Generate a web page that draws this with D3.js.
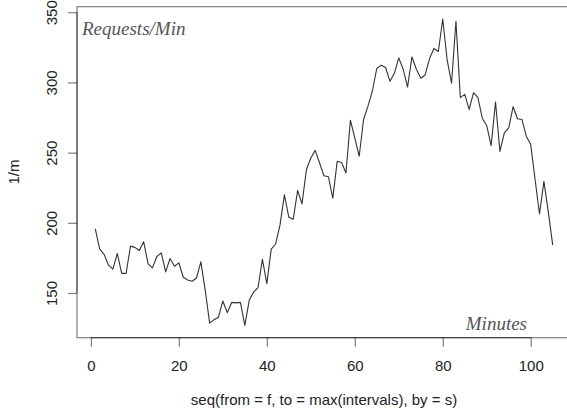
<!DOCTYPE html>
<html>
<head>
<meta charset="utf-8">
<script src="https://cdn.jsdelivr.net/npm/d3@7"></script>
<style>
  html, body { margin: 0; padding: 0; background: #fff; }
  svg { display: block; }
</style>
</head>
<body>
<div id="chart"></div>
<script>
// Request rate per minute, one sample per minute index
const minutes = d3.range(1, 106);
const requests = [
  195.6, 181.3, 177.5, 169.8, 167.0, 178.2, 164.0, 164.0, 183.4, 182.5,
  180.3, 186.5, 170.8, 167.9, 176.0, 178.6, 165.0, 174.6, 169.1, 171.5,
  161.2, 159.3, 158.4, 160.7, 172.2, 151.9, 128.5, 131.0, 132.8, 144.3,
  136.0, 143.3, 143.0, 143.3, 126.9, 144.8, 150.7, 153.9, 174.0, 156.7,
  181.3, 184.9, 198.5, 219.9, 204.0, 202.5, 223.0, 213.5, 237.8, 246.2,
  251.6, 242.6, 233.5, 232.8, 217.6, 243.8, 243.0, 235.5, 273.1, 260.5,
  247.4, 273.6, 283.1, 293.9, 309.9, 312.3, 310.6, 300.8, 306.5, 317.5,
  309.4, 296.7, 318.2, 309.4, 303.0, 305.3, 317.0, 324.2, 322.0, 345.2,
  316.0, 299.4, 343.6, 289.2, 291.5, 280.8, 292.7, 289.2, 274.3, 269.3,
  255.0, 286.0, 250.9, 264.1, 267.7, 282.7, 274.1, 273.6, 261.7, 255.7,
  230.7, 206.3, 229.5, 207.8, 184.1
];
const xTicks = [0, 20, 40, 60, 80, 100];
const yTicks = [150, 200, 250, 300, 350];

const xTitle = "seq(from = f, to = max(intervals), by = s)";
const yTitle = "1/m";
const topNote = "Requests/Min";
const bottomNote = "Minutes";

const W = 567, H = 415;
const box = { left: 77, right: 571, top: 6.7, bottom: 337.7 };
const sansFont = '"Liberation Sans", Arial, Helvetica, sans-serif';
const noteFont = '"Liberation Serif", "DejaVu Serif", serif';
const labelSize = 15;

// R-style 4% padding around the data range
function padded(ext) {
  const r = ext[1] - ext[0];
  return [ext[0] - 0.04 * r, ext[1] + 0.04 * r];
}

const x = d3.scaleLinear().domain(padded(d3.extent(minutes))).range([box.left, box.right]);
const y = d3.scaleLinear().domain(padded(d3.extent(requests))).range([box.bottom, box.top]);

const svg = d3.select("#chart").append("svg")
  .attr("width", W).attr("height", H);

const frameColor = "rgba(0,0,0,0.5)";

// plot frame
svg.append("rect")
  .attr("x", box.left).attr("y", box.top)
  .attr("width", box.right - box.left).attr("height", box.bottom - box.top)
  .attr("fill", "none").attr("stroke", frameColor).attr("stroke-width", 1.2);

// x axis
const gx = svg.append("g")
  .attr("transform", `translate(0,${box.bottom})`)
  .call(d3.axisBottom(x).tickValues(xTicks).tickFormat(d3.format("d"))
    .tickSize(9).tickSizeOuter(0));
gx.select(".domain").remove();
gx.append("line")
  .attr("x1", x(xTicks[0])).attr("x2", x(xTicks[xTicks.length - 1]))
  .attr("stroke", frameColor).attr("stroke-width", 1.2);
gx.selectAll(".tick line").attr("stroke", frameColor).attr("stroke-width", 1.2);
gx.selectAll(".tick text")
  .style("font-family", sansFont).style("font-size", labelSize + "px")
  .attr("fill", "#222")
  .attr("dy", null).attr("y", 33);

// y axis
const gy = svg.append("g")
  .attr("transform", `translate(${box.left},0)`)
  .call(d3.axisLeft(y).tickValues(yTicks).tickFormat(d3.format("d"))
    .tickSize(9).tickSizeOuter(0));
gy.select(".domain").remove();
gy.append("line")
  .attr("y1", y(yTicks[0])).attr("y2", y(yTicks[yTicks.length - 1]))
  .attr("stroke", frameColor).attr("stroke-width", 1.2);
gy.selectAll(".tick line").attr("stroke", frameColor).attr("stroke-width", 1.2);
gy.selectAll(".tick text")
  .style("font-family", sansFont).style("font-size", labelSize + "px")
  .attr("fill", "#222")
  .attr("transform", "rotate(-90)")
  .attr("text-anchor", "middle")
  .attr("x", 0).attr("y", -20).attr("dy", null);

// series line
svg.append("path")
  .datum(minutes.map((m, i) => [m, requests[i]]))
  .attr("fill", "none")
  .attr("stroke", "#333")
  .attr("stroke-width", 1.1)
  .attr("stroke-linejoin", "round")
  .attr("d", d3.line().x(d => x(d[0])).y(d => y(d[1])));

// axis titles
svg.append("text")
  .attr("x", 324).attr("y", 405)
  .attr("text-anchor", "middle").attr("fill", "#222")
  .style("font-family", sansFont).style("font-size", labelSize + "px")
  .text(xTitle);
svg.append("text")
  .attr("transform", "translate(19,172) rotate(-90)")
  .attr("text-anchor", "middle").attr("fill", "#222")
  .style("font-family", sansFont).style("font-size", labelSize + "px")
  .text(yTitle);

// in-plot notes
svg.append("text")
  .attr("x", 82).attr("y", 35)
  .style("font-family", noteFont).style("font-style", "italic")
  .style("font-size", "19px").attr("fill", "#555")
  .text(topNote);
svg.append("text")
  .attr("x", 527).attr("y", 330).attr("text-anchor", "end")
  .style("font-family", noteFont).style("font-style", "italic")
  .style("font-size", "19px").attr("fill", "#555")
  .text(bottomNote);
</script>
</body>
</html>
